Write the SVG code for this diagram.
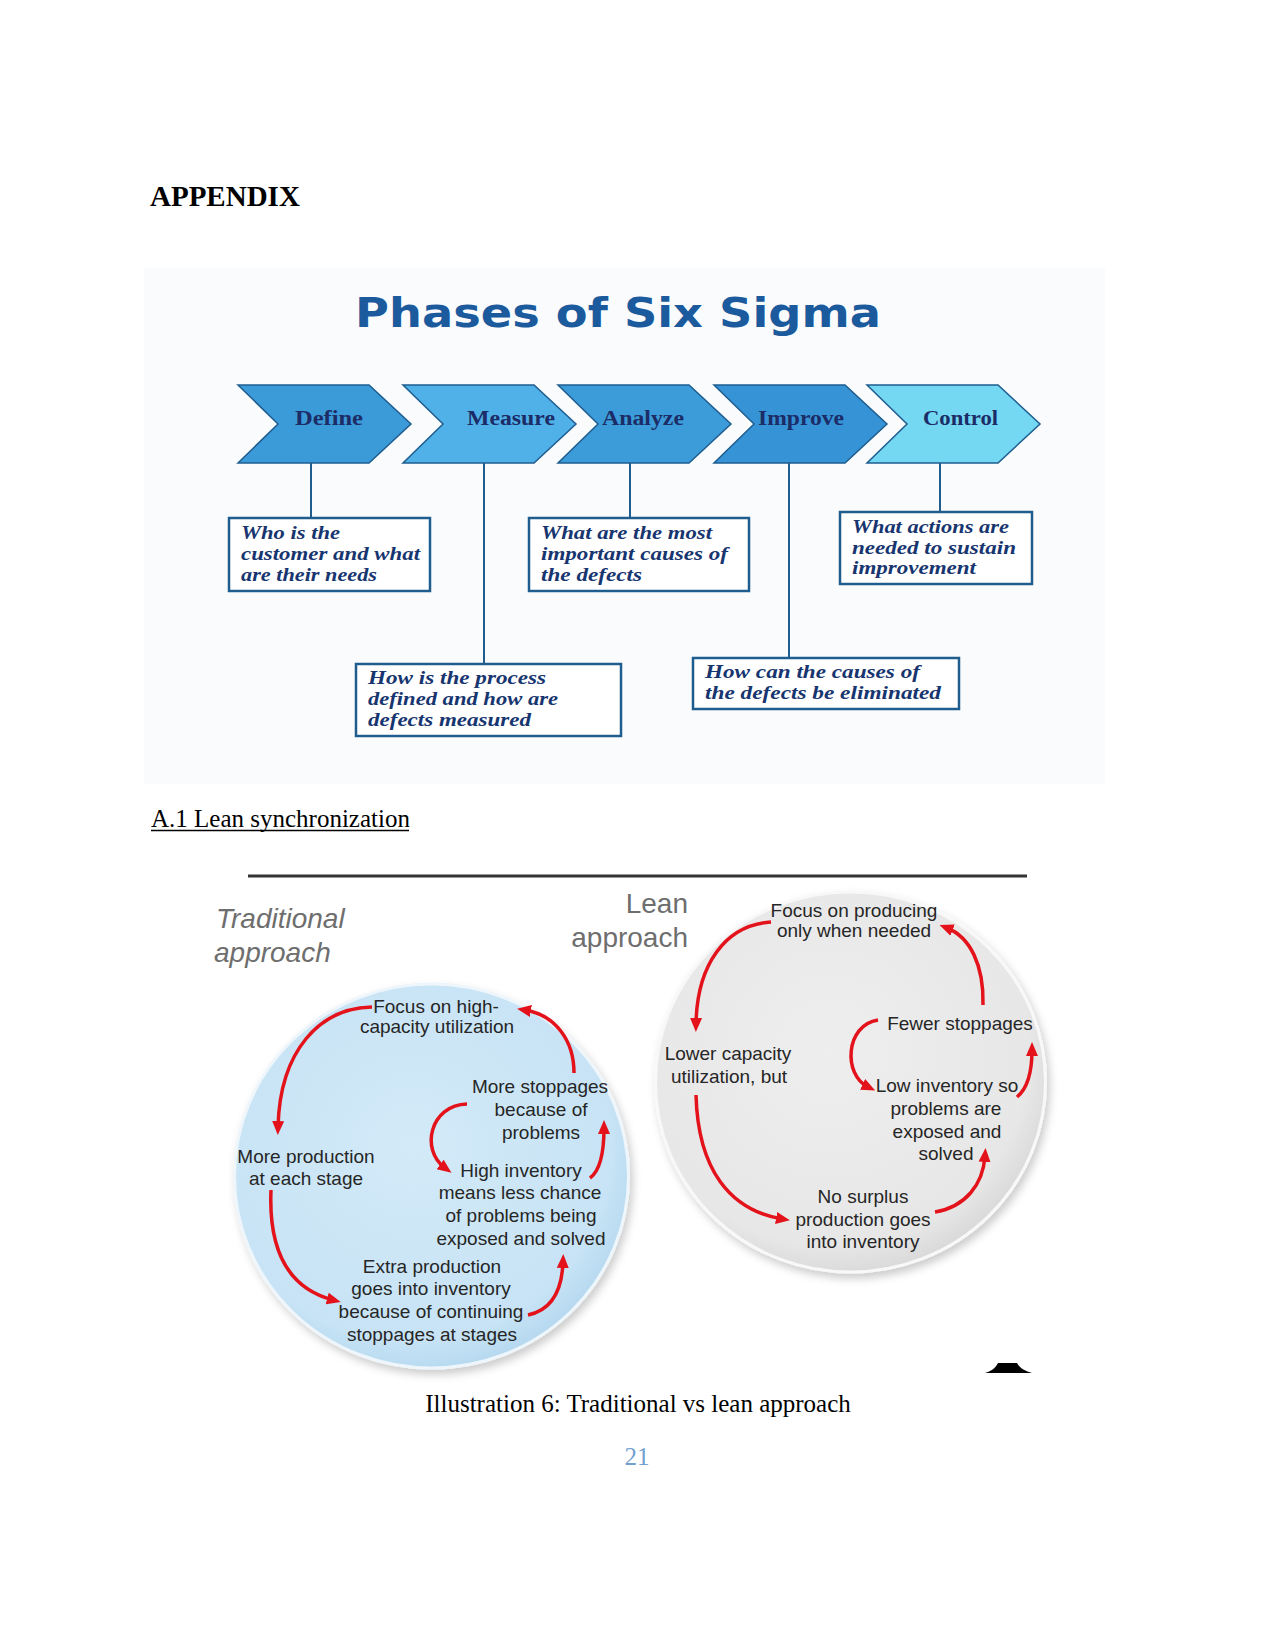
<svg xmlns="http://www.w3.org/2000/svg" width="1275" height="1650" viewBox="0 0 1275 1650">
<style>
.doc{font-family:"Liberation Serif",serif;fill:#000}
.chev{stroke:#1e5d90;stroke-width:1.5}
.clab{font-family:"Liberation Serif",serif;font-weight:bold;font-size:20px;fill:#1b2c66}
.box{fill:#ffffff;stroke:#1f5d8e;stroke-width:2.5}
.btxt{font-family:"Liberation Serif",serif;font-weight:bold;font-style:italic;font-size:18px;fill:#17356f}
.vl{stroke:#1f5d8e;stroke-width:2}
.ct{font-family:"Liberation Sans",Arial,sans-serif;font-size:19px;fill:#262626;text-anchor:middle}
.arr{fill:none;stroke:#e3121b;stroke-width:3.5}
.hd{font-family:"Liberation Sans",Arial,sans-serif;font-size:28px;fill:#6e6e6e}
</style>
<defs>
<marker id="ah" markerUnits="userSpaceOnUse" markerWidth="14" markerHeight="14" viewBox="0 0 14 14" refX="6" refY="7" orient="auto">
<path d="M0,1 L14,7 L0,13 z" fill="#e3121b"/>
</marker>
<radialGradient id="gBlue" cx="45%" cy="42%" r="60%">
<stop offset="0" stop-color="#d3eaf8"/>
<stop offset="0.85" stop-color="#c7e3f5"/>
<stop offset="1" stop-color="#b4d8ef"/>
</radialGradient>
<radialGradient id="gGray" cx="45%" cy="42%" r="60%">
<stop offset="0" stop-color="#eeeeee"/>
<stop offset="0.85" stop-color="#e7e7e7"/>
<stop offset="1" stop-color="#d8d8d8"/>
</radialGradient>
<filter id="sh" x="-10%" y="-10%" width="125%" height="125%">
<feDropShadow dx="3" dy="5" stdDeviation="4" flood-color="#000" flood-opacity="0.2"/>
</filter>
</defs>
<rect x="0" y="0" width="1275" height="1650" fill="#ffffff"/>

<g id="appendix-heading"><text class="doc" x="150" y="206" font-size="29" font-weight="bold">APPENDIX</text></g>

<!-- Six Sigma figure -->
<rect x="144" y="268" width="961" height="516" fill="#fafbfc"/>
<g id="title"><text x="355" y="327" font-family="DejaVu Sans,Liberation Sans,sans-serif" font-weight="bold" font-size="40" fill="#1b5a9c" textLength="526" lengthAdjust="spacingAndGlyphs">Phases of Six Sigma</text></g>

<g id="connectors-sigma">
<line class="vl" x1="311" y1="463" x2="311" y2="518"/>
<line class="vl" x1="484" y1="463" x2="484" y2="664"/>
<line class="vl" x1="630" y1="463" x2="630" y2="518"/>
<line class="vl" x1="789" y1="463" x2="789" y2="658"/>
<line class="vl" x1="940" y1="463" x2="940" y2="512"/>
</g>

<g id="define"><polygon class="chev" fill="#3b9ad8" points="238,385 369,385 411,424 369,463 238,463 278,424"/><text class="clab" x="295" y="425" textLength="68" lengthAdjust="spacingAndGlyphs">Define</text></g>
<g id="measure"><polygon class="chev" fill="#50b1e8" points="403,385 534,385 576,424 534,463 403,463 443,424"/><text class="clab" x="467" y="425" textLength="88" lengthAdjust="spacingAndGlyphs">Measure</text></g>
<g id="analyze"><polygon class="chev" fill="#3c9cda" points="558,385 689,385 731,424 689,463 558,463 598,424"/><text class="clab" x="602" y="425" textLength="82" lengthAdjust="spacingAndGlyphs">Analyze</text></g>
<g id="improve"><polygon class="chev" fill="#3693d6" points="714,385 845,385 887,424 845,463 714,463 754,424"/><text class="clab" x="758" y="425" textLength="86" lengthAdjust="spacingAndGlyphs">Improve</text></g>
<g id="control"><polygon class="chev" fill="#74d8f2" points="867,385 998,385 1040,424 998,463 867,463 907,424"/><text class="clab" x="923" y="425" textLength="75" lengthAdjust="spacingAndGlyphs">Control</text></g>

<g id="box-define"><rect class="box" x="229" y="518" width="201" height="73"/>
<text class="btxt" x="241" y="539" textLength="99" lengthAdjust="spacingAndGlyphs">Who is the</text>
<text class="btxt" x="241" y="560" textLength="179" lengthAdjust="spacingAndGlyphs">customer and what</text>
<text class="btxt" x="241" y="581" textLength="136" lengthAdjust="spacingAndGlyphs">are their needs</text></g>
<g id="box-measure"><rect class="box" x="356" y="664" width="265" height="72"/>
<text class="btxt" x="368" y="684" textLength="178" lengthAdjust="spacingAndGlyphs">How is the process</text>
<text class="btxt" x="368" y="705" textLength="190" lengthAdjust="spacingAndGlyphs">defined and how are</text>
<text class="btxt" x="368" y="726" textLength="163" lengthAdjust="spacingAndGlyphs">defects measured</text></g>
<g id="box-analyze"><rect class="box" x="529" y="518" width="220" height="73"/>
<text class="btxt" x="541" y="539" textLength="171" lengthAdjust="spacingAndGlyphs">What are the most</text>
<text class="btxt" x="541" y="560" textLength="187" lengthAdjust="spacingAndGlyphs">important causes of</text>
<text class="btxt" x="541" y="581" textLength="101" lengthAdjust="spacingAndGlyphs">the defects</text></g>
<g id="box-improve"><rect class="box" x="693" y="658" width="266" height="51"/>
<text class="btxt" x="705" y="678" textLength="215" lengthAdjust="spacingAndGlyphs">How can the causes of</text>
<text class="btxt" x="705" y="699" textLength="236" lengthAdjust="spacingAndGlyphs">the defects be eliminated</text></g>
<g id="box-control"><rect class="box" x="840" y="512" width="192" height="72"/>
<text class="btxt" x="852" y="533" textLength="157" lengthAdjust="spacingAndGlyphs">What actions are</text>
<text class="btxt" x="852" y="554" textLength="164" lengthAdjust="spacingAndGlyphs">needed to sustain</text>
<text class="btxt" x="852" y="574" textLength="124" lengthAdjust="spacingAndGlyphs">improvement</text></g>

<g id="section-heading"><text class="doc" x="151" y="827" font-size="25">A.1 Lean synchronization</text>
<line x1="151" y1="830.5" x2="409" y2="830.5" stroke="#000" stroke-width="1.3"/></g>

<!-- Lean figure -->
<line x1="248" y1="876" x2="1027" y2="876" stroke="#333333" stroke-width="3"/>
<g id="traditional-label"><text class="hd" x="216" y="928" font-style="italic">Traditional</text><text class="hd" x="214" y="962" font-style="italic">approach</text></g>
<g id="lean-label"><text class="hd" x="688" y="913" text-anchor="end" fill="#707070">Lean</text><text class="hd" x="688" y="947" text-anchor="end" fill="#707070">approach</text></g>

<g id="traditional-circle"><ellipse cx="431.5" cy="1176" rx="197" ry="192" fill="url(#gBlue)" stroke="#eef6fb" stroke-width="3" filter="url(#sh)"/></g>
<g id="lean-circle"><ellipse cx="850.5" cy="1082" rx="195" ry="190" fill="url(#gGray)" stroke="#f8f8f8" stroke-width="3" filter="url(#sh)"/></g>

<g id="t-focus"><text class="ct" x="436" y="1013">Focus on high-</text><text class="ct" x="437" y="1033">capacity utilization</text></g>
<g id="t-more-stoppages"><text class="ct" x="540" y="1093">More stoppages</text><text class="ct" x="541" y="1116">because of</text><text class="ct" x="541" y="1139">problems</text></g>
<g id="t-more-production"><text class="ct" x="306" y="1163">More production</text><text class="ct" x="306" y="1185">at each stage</text></g>
<g id="t-high-inventory"><text class="ct" x="521" y="1177">High inventory</text><text class="ct" x="520" y="1199">means less chance</text><text class="ct" x="521" y="1222">of problems being</text><text class="ct" x="521" y="1245">exposed and solved</text></g>
<g id="t-extra-production"><text class="ct" x="432" y="1273">Extra production</text><text class="ct" x="431" y="1295">goes into inventory</text><text class="ct" x="431" y="1318">because of continuing</text><text class="ct" x="432" y="1341">stoppages at stages</text></g>

<g id="l-focus"><text class="ct" x="854" y="917">Focus on producing</text><text class="ct" x="854" y="937">only when needed</text></g>
<g id="l-fewer"><text class="ct" x="960" y="1030">Fewer stoppages</text></g>
<g id="l-lower"><text class="ct" x="728" y="1060">Lower capacity</text><text class="ct" x="729" y="1083">utilization,  but</text></g>
<g id="l-low-inventory"><text class="ct" x="947" y="1092">Low inventory so</text><text class="ct" x="946" y="1115">problems  are</text><text class="ct" x="947" y="1138">exposed and</text><text class="ct" x="946" y="1160">solved</text></g>
<g id="l-no-surplus"><text class="ct" x="863" y="1203">No surplus</text><text class="ct" x="863" y="1226">production goes</text><text class="ct" x="863" y="1248">into inventory</text></g>

<g id="connectors-lean">
<path class="arr" marker-end="url(#ah)" d="M372,1007 C320,1008 280,1050 278,1127"/>
<path class="arr" marker-end="url(#ah)" d="M574,1073 C574,1040 555,1015 525,1010"/>
<path class="arr" marker-end="url(#ah)" d="M467,1104 C430,1105 420,1150 445,1168"/>
<path class="arr" marker-end="url(#ah)" d="M590,1178 C601,1170 604,1150 604,1128"/>
<path class="arr" marker-end="url(#ah)" d="M271,1190 C268,1260 295,1290 333,1300"/>
<path class="arr" marker-end="url(#ah)" d="M528,1315 C552,1310 562,1290 563,1262"/>
<path class="arr" marker-end="url(#ah)" d="M771,922 C725,925 697,965 696,1024"/>
<path class="arr" marker-end="url(#ah)" d="M983,1005 C984,965 970,937 947,928"/>
<path class="arr" marker-end="url(#ah)" d="M878,1020 C845,1025 843,1075 868,1087"/>
<path class="arr" marker-end="url(#ah)" d="M1017,1097 C1028,1088 1032,1070 1032,1050"/>
<path class="arr" marker-end="url(#ah)" d="M696,1095 C698,1170 730,1210 782,1219"/>
<path class="arr" marker-end="url(#ah)" d="M935,1212 C965,1207 983,1185 985,1156"/>
</g>
<path d="M985,1373 C991,1371 995,1369 998,1363 L1017,1363 C1020,1369 1026,1371 1032,1373 Z" fill="#000"/>

<g id="caption"><text class="doc" x="638" y="1412" font-size="25" text-anchor="middle">Illustration 6: Traditional vs lean approach</text></g>
<g id="page-number"><text x="637" y="1465" font-family="Liberation Serif,serif" font-size="25" fill="#729fcf" text-anchor="middle">21</text></g>
</svg>
